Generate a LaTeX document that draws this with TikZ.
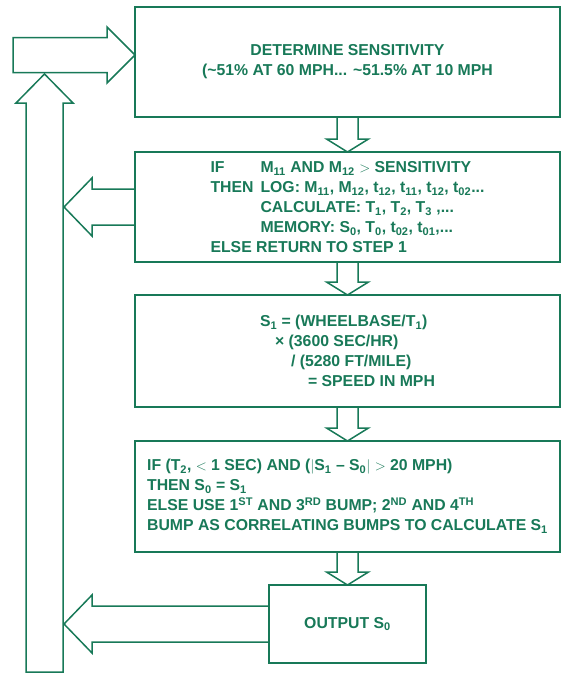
\documentclass[tikz,border=0pt]{standalone}
\usepackage{fontspec}
\setmainfont{Liberation Sans}
\usepackage{xcolor}
\usetikzlibrary{calc, positioning}
\definecolor{flowgreen}{RGB}{24,121,88}

\begin{document}
\begin{tikzpicture}[x=1pt, y=-1pt,
    box/.style={draw=flowgreen, line width=2.5pt, outer sep=0pt,
        minimum width=425pt, minimum height=110pt, inner sep=0pt,
        text=flowgreen, align=left,
        font=\bfseries\fontsize{15.8}{20}\selectfont},
    blockline/.style={draw=flowgreen, line width=1.5pt, line join=miter}]

    % =================================================================
    % 1. PAGE FRAME
    % =================================================================
    \useasboundingbox (0,0) rectangle (561,673);

    % =================================================================
    % 2. THE FIVE STEPS OF THE FLOW
    % =================================================================
    \node[box, align=center] (sens) at (347.5,62)
        {DETERMINE SENSITIVITY\\
         (\textasciitilde51\% AT 60 MPH... \textasciitilde51.5\% AT 10 MPH};

    \node[box, below=35pt of sens] (cond)
        {\makebox[50pt][l]{IF}M\textsubscript{11} AND M\textsubscript{12} $>$ SENSITIVITY\\
         \makebox[50pt][l]{THEN}LOG: M\textsubscript{11}, M\textsubscript{12}, t\textsubscript{12}, t\textsubscript{11}, t\textsubscript{12}, t\textsubscript{02}...\\
         \hspace*{50pt}CALCULATE: T\textsubscript{1}, T\textsubscript{2}, T\textsubscript{3} ,...\\
         \hspace*{50pt}MEMORY: S\textsubscript{0}, T\textsubscript{0}, t\textsubscript{02}, t\textsubscript{01},...\\
         ELSE RETURN TO STEP 1};

    \node[box, minimum height=112pt, below=33pt of cond] (speed)
        {S\textsubscript{1} = (WHEELBASE/T\textsubscript{1})\\
         \hspace*{15pt}× (3600 SEC/HR)\\
         \hspace*{31pt}/ (5280 FT/MILE)\\
         \hspace*{48pt}= SPEED IN MPH};

    \node[box, minimum height=111pt, below=34pt of speed] (check)
        {IF (T\textsubscript{2}, $<$ 1 SEC) AND ($|$S\textsubscript{1} – S\textsubscript{0}$|$ $>$ 20 MPH)\\
         THEN S\textsubscript{0} = S\textsubscript{1}\\
         ELSE USE 1\textsuperscript{ST} AND 3\textsuperscript{RD} BUMP; 2\textsuperscript{ND} AND 4\textsuperscript{TH}\\
         BUMP AS CORRELATING BUMPS TO CALCULATE S\textsubscript{1}};

    \node[box, minimum width=157pt, minimum height=78pt, below=33pt of check] (out)
        {OUTPUT S\textsubscript{0}};

    % =================================================================
    % 3. HOLLOW ARROWS DOWN BETWEEN THE STEPS
    % =================================================================
    \foreach \a/\b in {sens/cond, cond/speed, speed/check, check/out} {
        \draw[blockline] ($(\a.south)+(-10.5,0)$) -- ($(\b.north)+(-10.5,-13)$)
            -- ++(-10.5,0) -- (\b.north) -- ($(\b.north)+(21,-13)$)
            -- ++(-10.5,0) -- ($(\a.south)+(10.5,0)$);
    }

    % =================================================================
    % 4. RETURN LOOP ON THE LEFT
    % =================================================================
    \coordinate (loopbot) at (44.5,672);
    \coordinate (looptip) at (44.5,74);
    \coordinate (feedtip) at ($(sens.west)+(0,-7)$);

    % upward shaft with its head
    \draw[blockline] ($(loopbot)+(-18.5,0)$) |- ($(looptip)+(-28.5,29)$)
        -- (looptip) -- ++(28.5,29) -- ++(-10,0)
        -- ($(loopbot)+(18.5,0)$) -- cycle;

    % arrow back into the first step
    \draw[blockline] ($(feedtip)+(-122,-17.5)$) -- ($(feedtip)+(-28,-17.5)$)
        -- ++(0,-10.5) -- (feedtip) -- ($(feedtip)+(-28,28)$)
        -- ++(0,-10.5) -- ($(feedtip)+(-122,17.5)$) -- cycle;

    % arrows leaving the test step and the output step
    \foreach \b in {cond, out} {
        \draw[blockline] ($(\b.west)+(0,-18)$) -- ($(\b.west -| loopbot)+(47.5,-18)$)
            -- ++(0,-11) -- ($(\b.west -| loopbot)+(19.5,0)$)
            -- ($(\b.west -| loopbot)+(47.5,29)$) -- ++(0,-11)
            -- ($(\b.west)+(0,18)$);
    }

\end{tikzpicture}
\end{document}
